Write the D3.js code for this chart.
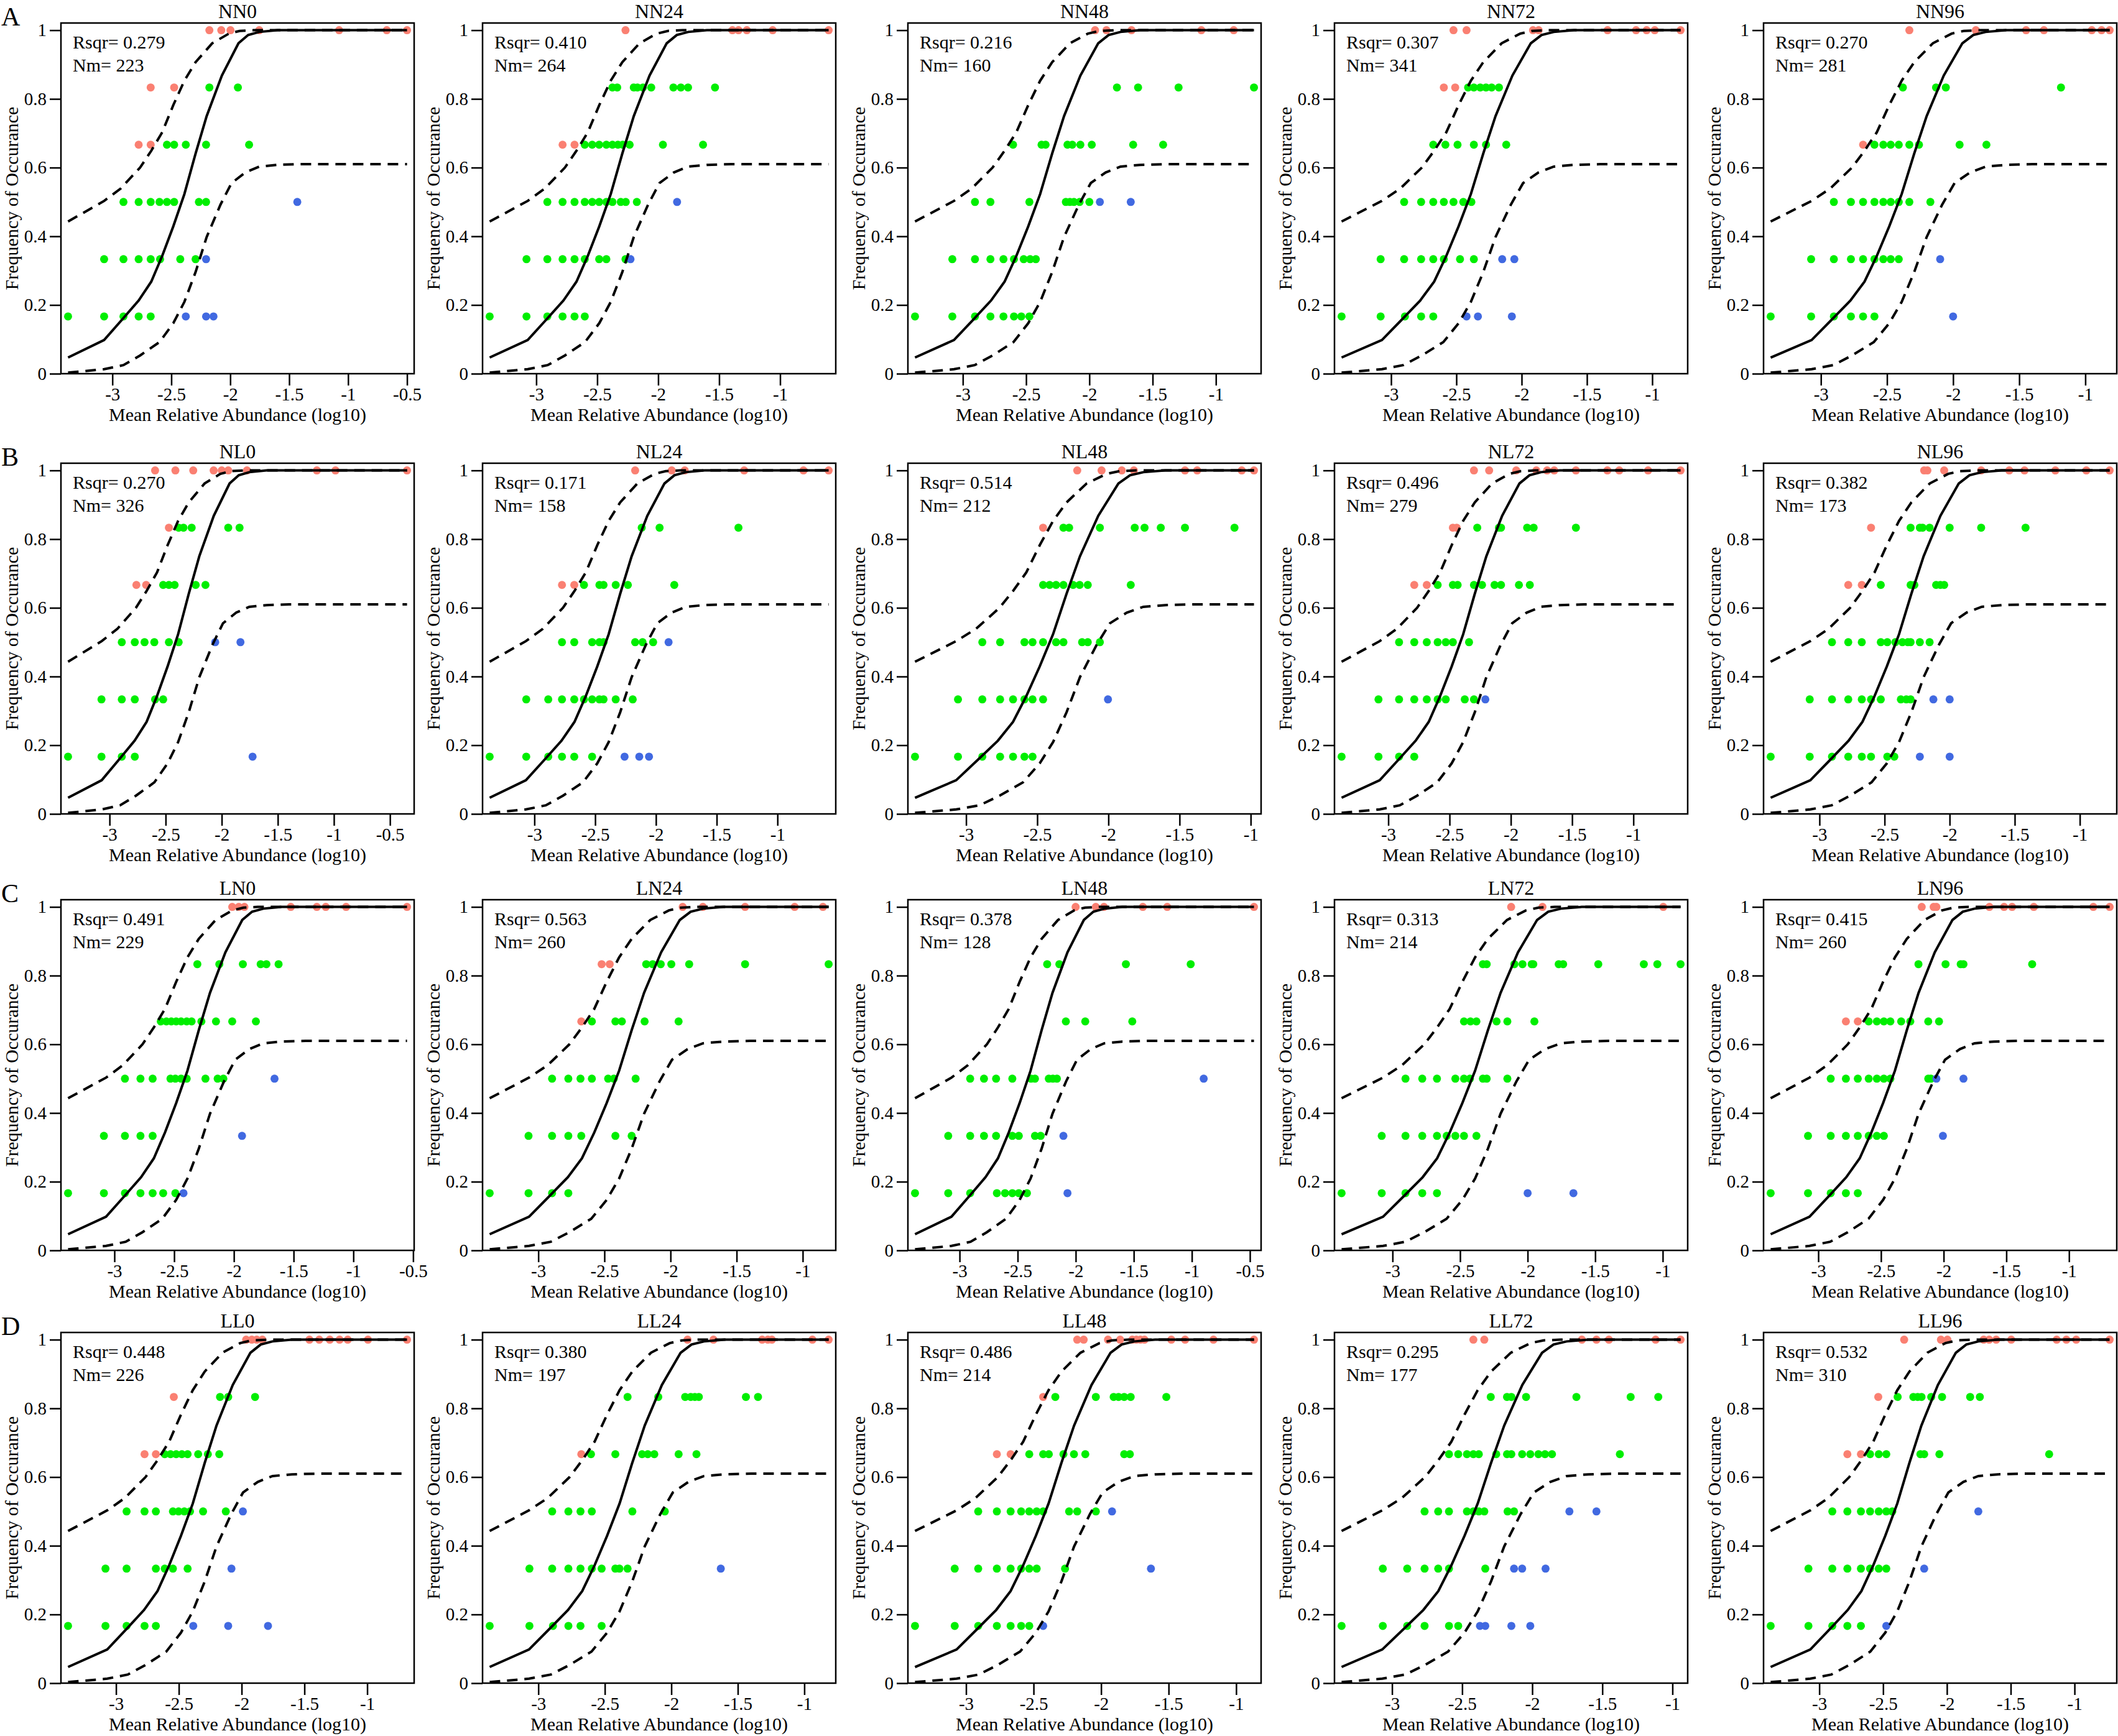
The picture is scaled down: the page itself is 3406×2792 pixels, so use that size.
<!DOCTYPE html>
<html>
<head>
<meta charset="utf-8">
<script src="https://cdn.jsdelivr.net/npm/d3@7"></script>
<style>
  body { margin: 0; background: #fff; }
  text { font-family: "Liberation Serif", "Times New Roman", serif; fill: #000; }
</style>
</head>
<body>
<svg></svg>
<script>
// panels, read row by row (A..D) from the figure
const panelNames = ['NN0','NN24','NN48','NN72','NN96',
                    'NL0','NL24','NL48','NL72','NL96',
                    'LN0','LN24','LN48','LN72','LN96',
                    'LL0','LL24','LL48','LL72','LL96'];
const rsqr = ['0.279','0.410','0.216','0.307','0.270',
              '0.270','0.171','0.514','0.496','0.382',
              '0.491','0.563','0.378','0.313','0.415',
              '0.448','0.380','0.486','0.295','0.532'];
const nm = [223,264,160,341,281, 326,158,212,279,173, 229,260,128,214,260, 226,197,214,177,310];
const rowLetters = ['A','B','C','D'];
const yTickValues = [0, 0.2, 0.4, 0.6, 0.8, 1];
const yTickLabels = ['0','0.2','0.4','0.6','0.8','1'];

// neutral model fit and 95% bounds (log10 abundance, frequency)
const fitX = [-3.376,-3.07,-2.906,-2.777,-2.67,-2.577,-2.483,-2.389,-2.294,-2.2,-2.071,-1.93,-1.848,-1.754,-1.6];
const fitY = [0.047,0.098,0.162,0.213,0.268,0.343,0.429,0.523,0.641,0.75,0.868,0.962,0.986,0.995,1.0];
const upperX = [-3.376,-3.07,-2.93,-2.765,-2.67,-2.577,-2.483,-2.389,-2.294,-2.153,-2.012,-1.92,-1.8];
const upperY = [0.443,0.503,0.539,0.6,0.649,0.703,0.782,0.853,0.907,0.962,0.99,0.998,1.0];
const lowerX = [-3.376,-3.07,-2.906,-2.765,-2.6,-2.483,-2.389,-2.294,-2.2,-2.083,-1.989,-1.871,-1.754,-1.6,-1.4];
const lowerY = [0.003,0.013,0.025,0.053,0.092,0.147,0.209,0.296,0.398,0.492,0.555,0.586,0.603,0.608,0.61];

// points: [occurrences out of 6, group (a=above, n=neutral, b=below), x values]
const ptsNN0 = [
  [6,'a',[-2.177,-2.076,-1.998,-1.754,-1.076,-0.672,-0.5]],
  [5,'a',[-2.675,-2.476]], [5,'n',[-2.177,-1.935]],
  [4,'a',[-2.777,-2.675]], [4,'n',[-2.537,-2.476,-2.377,-2.205,-1.84]],
  [3,'n',[-2.906,-2.777,-2.675,-2.6,-2.537,-2.476,-2.266,-2.205]], [3,'b',[-1.431]],
  [2,'n',[-3.07,-2.906,-2.777,-2.675,-2.595,-2.424,-2.294]], [2,'b',[-2.205]],
  [1,'n',[-3.376,-3.07,-2.906,-2.777,-2.675]], [1,'b',[-2.377,-2.205,-2.142]]
];
const ptsNN24 = [
  [6,'a',[-2.268,-1.391,-1.341,-1.273,-1.061,-0.602]],
  [5,'n',[-2.375,-2.336,-2.2,-2.17,-2.125,-2.057,-1.875,-1.814,-1.755,-1.534]],
  [4,'a',[-2.784,-2.686]], [4,'n',[-2.602,-2.541,-2.484,-2.425,-2.375,-2.33,-2.291,-2.234,-1.961,-1.632]],
  [3,'n',[-2.909,-2.784,-2.686,-2.602,-2.541,-2.484,-2.425,-2.375,-2.307,-2.266,-2.175]], [3,'b',[-1.845]],
  [2,'n',[-3.08,-2.909,-2.784,-2.686,-2.602,-2.484,-2.425,-2.268]], [2,'b',[-2.227]],
  [1,'n',[-3.382,-3.08,-2.909,-2.784,-2.686,-2.602]]
];
const ptsNN48 = [
  [6,'a',[-1.955,-1.865,-1.667,-1.115,-0.859]],
  [5,'n',[-1.782,-1.615,-1.295,-0.699]],
  [4,'n',[-2.603,-2.378,-2.346,-2.173,-2.135,-2.071,-1.981,-1.654,-1.417]],
  [3,'n',[-2.904,-2.782,-2.474,-2.186,-2.154,-2.122,-2.077,-2.0]], [3,'b',[-1.917,-1.673]],
  [2,'n',[-3.083,-2.904,-2.782,-2.679,-2.596,-2.519,-2.468,-2.423]],
  [1,'n',[-3.378,-3.083,-2.904,-2.782,-2.679,-2.596,-2.538,-2.474]]
];
const ptsNN72 = [
  [6,'a',[-2.522,-2.422,-1.913,-1.87,-1.342,-1.124,-1.043,-0.981,-0.783]],
  [5,'a',[-2.596,-2.509]], [5,'n',[-2.41,-2.366,-2.317,-2.273,-2.23,-2.174]],
  [4,'n',[-2.677,-2.584,-2.491,-2.366,-2.273,-2.118]],
  [3,'n',[-2.9,-2.77,-2.677,-2.596,-2.522,-2.447,-2.385]],
  [2,'n',[-3.08,-2.9,-2.77,-2.677,-2.596,-2.472,-2.366]], [2,'b',[-2.149,-2.056]],
  [1,'n',[-3.379,-3.08,-2.894,-2.77,-2.677]], [1,'b',[-2.422,-2.335,-2.075]]
];
const ptsNN96 = [
  [6,'a',[-2.331,-1.828,-1.448,-1.313,-0.951,-0.877,-0.816]],
  [5,'n',[-2.38,-2.129,-2.055,-1.184]],
  [4,'a',[-2.681]], [4,'n',[-2.595,-2.528,-2.472,-2.411,-2.331,-2.258,-1.951,-1.748]],
  [3,'n',[-2.902,-2.773,-2.681,-2.595,-2.528,-2.472,-2.411,-2.331,-2.172]],
  [2,'n',[-3.074,-2.902,-2.773,-2.681,-2.595,-2.528,-2.472,-2.411]], [2,'b',[-2.098]],
  [1,'n',[-3.38,-3.074,-2.902,-2.773,-2.681,-2.595]], [1,'b',[-2.0]]
];
const ptsNL0 = [
  [6,'a',[-2.594,-2.413,-2.254,-2.072,-2.0,-1.942,-1.775,-1.152,-0.986,-0.348]],
  [5,'a',[-2.471]], [5,'n',[-2.384,-2.341,-2.268,-1.942,-1.841]],
  [4,'a',[-2.761,-2.674]], [4,'n',[-2.522,-2.471,-2.42,-2.232,-2.145]],
  [3,'n',[-2.891,-2.775,-2.688,-2.601,-2.471,-2.384]], [3,'b',[-2.058,-1.833]],
  [2,'n',[-3.072,-2.891,-2.775,-2.594,-2.522]],
  [1,'n',[-3.37,-3.072,-2.891,-2.775]], [1,'b',[-1.725]]
];
const ptsNL24 = [
  [6,'a',[-2.171,-1.87,-1.763,-1.274,-0.786,-0.579]],
  [5,'n',[-2.117,-1.97,-1.321]],
  [4,'a',[-2.773,-2.672]], [4,'n',[-2.592,-2.465,-2.431,-2.331,-2.231,-1.849]],
  [3,'n',[-2.773,-2.672,-2.525,-2.465,-2.431,-2.171,-2.11,-2.023]], [3,'b',[-1.896]],
  [2,'n',[-3.067,-2.886,-2.773,-2.672,-2.592,-2.525,-2.465,-2.431,-2.331,-2.191]],
  [1,'n',[-3.368,-3.067,-2.886,-2.773,-2.672,-2.525]], [1,'b',[-2.258,-2.137,-2.057]]
];
const ptsNL48 = [
  [6,'a',[-2.219,-2.048,-1.906,-1.821,-1.462,-1.376,-1.063,-0.977]],
  [5,'a',[-2.459]], [5,'n',[-2.316,-2.276,-2.06,-1.815,-1.746,-1.632,-1.462,-1.114]],
  [4,'n',[-2.459,-2.413,-2.368,-2.316,-2.248,-2.202,-2.145,-1.843]],
  [3,'n',[-2.886,-2.761,-2.59,-2.533,-2.459,-2.368,-2.316,-2.185,-2.145,-2.06]],
  [2,'n',[-3.057,-2.886,-2.761,-2.67,-2.59,-2.533,-2.459]], [2,'b',[-2.003]],
  [1,'n',[-3.359,-3.057,-2.886,-2.761,-2.67,-2.59,-2.533]]
];
const ptsNL72 = [
  [6,'a',[-2.301,-2.177,-1.956,-1.792,-1.704,-1.646,-1.469,-1.212,-1.115,-0.88,-0.615]],
  [5,'a',[-2.473,-2.442]], [5,'n',[-2.274,-2.097,-2.08,-1.867,-1.814,-1.469]],
  [4,'a',[-2.788,-2.686]], [4,'n',[-2.597,-2.473,-2.434,-2.301,-2.235,-2.133,-2.08,-1.934,-1.845]],
  [3,'n',[-2.912,-2.788,-2.686,-2.597,-2.531,-2.473,-2.341]],
  [2,'n',[-3.08,-2.912,-2.788,-2.686,-2.597,-2.531,-2.376,-2.301]], [2,'b',[-2.208]],
  [1,'n',[-3.381,-3.08,-2.912,-2.788]]
];
const ptsNL96 = [
  [6,'a',[-2.196,-2.171,-2.042,-1.758,-1.542,-1.425,-1.188,-0.95,-0.771]],
  [5,'a',[-2.604]], [5,'n',[-2.3,-2.229,-2.208,-2.154,-2.0,-1.758,-1.417]],
  [4,'a',[-2.779,-2.675]], [4,'n',[-2.529,-2.3,-2.271,-2.104,-2.071,-2.042]],
  [3,'n',[-2.904,-2.779,-2.675,-2.529,-2.479,-2.417,-2.363,-2.321,-2.3,-2.229,-2.154]],
  [2,'n',[-3.075,-2.904,-2.779,-2.675,-2.604,-2.529,-2.375,-2.333,-2.3]], [2,'b',[-2.125,-2.0]],
  [1,'n',[-3.375,-3.075,-2.904,-2.779,-2.675,-2.604,-2.479,-2.425]], [1,'b',[-2.229,-2.0]]
];
const ptsLN0 = [
  [6,'a',[-2.014,-1.959,-1.912,-1.524,-1.306,-1.231,-1.061,-0.551]],
  [5,'n',[-2.306,-2.122,-1.925,-1.776,-1.728,-1.626]],
  [4,'n',[-2.612,-2.565,-2.524,-2.483,-2.442,-2.395,-2.354,-2.272,-2.15,-2.014,-1.816]],
  [3,'n',[-2.912,-2.782,-2.68,-2.531,-2.49,-2.442,-2.395,-2.238,-2.136,-2.088]], [3,'b',[-1.66]],
  [2,'n',[-3.088,-2.912,-2.782,-2.68]], [2,'b',[-1.932]],
  [1,'n',[-3.388,-3.088,-2.912,-2.782,-2.68,-2.592,-2.49]], [1,'b',[-2.422]]
];
const ptsLN24 = [
  [6,'a',[-1.908,-1.755,-1.436,-1.061,-0.847]],
  [5,'a',[-2.521,-2.46]], [5,'n',[-2.184,-2.135,-2.074,-1.994,-1.859,-1.436,-0.804]],
  [4,'a',[-2.675]], [4,'n',[-2.595,-2.417,-2.368,-2.196,-1.939]],
  [3,'n',[-2.896,-2.773,-2.681,-2.595,-2.472,-2.429,-2.264]],
  [2,'n',[-3.074,-2.896,-2.773,-2.675,-2.417,-2.294]],
  [1,'n',[-3.368,-3.074,-2.896,-2.773]]
];
const ptsLN48 = [
  [6,'a',[-2.001,-1.827,-1.757,-1.422,-1.212,-0.465]],
  [5,'n',[-2.246,-2.141,-1.568,-1.01]],
  [4,'n',[-2.085,-1.918,-1.513]],
  [3,'n',[-2.909,-2.79,-2.686,-2.546,-2.385,-2.351,-2.232,-2.197,-2.162]], [3,'b',[-0.898]],
  [2,'n',[-3.098,-2.909,-2.79,-2.686,-2.546,-2.49,-2.351,-2.302]], [2,'b',[-2.106]],
  [1,'n',[-3.384,-3.098,-2.909,-2.679,-2.609,-2.546,-2.49,-2.42]], [1,'b',[-2.071]]
];
const ptsLN72 = [
  [6,'a',[-2.122,-1.89,-0.996]],
  [5,'n',[-2.331,-2.303,-2.098,-2.038,-1.97,-1.958,-1.77,-1.737,-1.477,-1.14,-1.04,-0.868]],
  [4,'n',[-2.471,-2.423,-2.379,-2.23,-2.15,-1.95]],
  [3,'n',[-2.904,-2.78,-2.671,-2.535,-2.471,-2.427,-2.331,-2.303,-2.15]],
  [2,'n',[-3.08,-2.904,-2.78,-2.671,-2.599,-2.535,-2.471,-2.379]],
  [1,'n',[-3.377,-3.08,-2.904,-2.78,-2.671]], [1,'b',[-2.0,-1.661]]
];
const ptsLN96 = [
  [6,'a',[-2.175,-2.08,-2.058,-1.635,-1.518,-1.454,-1.281,-0.806,-0.676]],
  [5,'n',[-2.201,-1.985,-1.864,-1.842,-1.294]],
  [4,'a',[-2.78,-2.685]], [4,'n',[-2.598,-2.533,-2.477,-2.425,-2.339,-2.266,-2.123,-2.037]],
  [3,'n',[-2.901,-2.78,-2.685,-2.598,-2.533,-2.477,-2.425,-2.123,-2.102]], [3,'b',[-2.058,-1.842]],
  [2,'n',[-3.082,-2.901,-2.78,-2.685,-2.598,-2.533,-2.477]], [2,'b',[-2.006]],
  [1,'n',[-3.38,-3.082,-2.901,-2.78,-2.685]]
];
const ptsLL0 = [
  [6,'a',[-1.964,-1.919,-1.88,-1.835,-1.46,-1.382,-1.298,-1.22,-1.155,-0.994,-0.683]],
  [5,'a',[-2.54]], [5,'n',[-2.172,-2.107,-1.893]],
  [4,'a',[-2.773,-2.683]], [4,'n',[-2.612,-2.566,-2.521,-2.476,-2.43,-2.346,-2.269,-2.178]],
  [3,'n',[-2.916,-2.773,-2.683,-2.547,-2.502,-2.456,-2.411,-2.307,-2.126]], [3,'b',[-1.99]],
  [2,'n',[-3.084,-2.916,-2.683,-2.612,-2.547,-2.43]], [2,'b',[-2.081]],
  [1,'n',[-3.382,-3.084,-2.916,-2.773,-2.683]], [1,'b',[-2.385,-2.107,-1.79]]
];
const ptsLL24 = [
  [6,'a',[-1.878,-1.683,-1.317,-1.274,-1.244,-0.939,-0.817]],
  [5,'n',[-2.329,-2.098,-1.896,-1.854,-1.823,-1.793,-1.439,-1.348]],
  [4,'a',[-2.677]], [4,'n',[-2.604,-2.421,-2.22,-2.177,-2.128,-1.945,-1.811]],
  [3,'n',[-2.896,-2.774,-2.683,-2.598,-2.293,-2.049]],
  [2,'n',[-3.067,-2.896,-2.774,-2.683,-2.598,-2.524,-2.421,-2.39,-2.329]], [2,'b',[-1.628]],
  [1,'n',[-3.366,-3.067,-2.89,-2.774,-2.683,-2.524]]
];
const ptsLL48 = [
  [6,'a',[-2.177,-2.129,-1.949,-1.859,-1.769,-1.739,-1.709,-1.679,-1.48,-1.378,-1.168,-0.868]],
  [5,'a',[-2.429]], [5,'n',[-2.339,-2.039,-1.907,-1.871,-1.829,-1.781,-1.517]],
  [4,'a',[-2.772,-2.67]], [4,'n',[-2.532,-2.429,-2.387,-2.279,-2.201,-2.117,-1.829,-1.787]],
  [3,'n',[-2.91,-2.772,-2.67,-2.592,-2.532,-2.477,-2.429,-2.237,-2.177,-2.039]], [3,'b',[-1.919]],
  [2,'n',[-3.084,-2.91,-2.772,-2.67,-2.592,-2.532,-2.477,-2.267]], [2,'b',[-1.631]],
  [1,'n',[-3.378,-3.084,-2.91,-2.772,-2.67,-2.592,-2.532]], [1,'b',[-2.429]]
];
const ptsLL72 = [
  [6,'a',[-2.42,-2.342,-1.646,-1.542,-1.453,-1.12,-0.942]],
  [5,'n',[-2.296,-2.18,-2.149,-2.044,-1.685,-1.298,-1.101]],
  [4,'n',[-2.594,-2.528,-2.466,-2.42,-2.381,-2.257,-2.18,-2.149,-2.072,-2.014,-1.956,-1.909,-1.859,-1.375]],
  [3,'n',[-2.768,-2.671,-2.594,-2.466,-2.42,-2.381,-2.342,-2.176,-2.13]], [3,'b',[-1.735,-1.542]],
  [2,'n',[-3.066,-2.892,-2.768,-2.671,-2.594,-2.335]], [2,'b',[-2.13,-2.072,-1.905]],
  [1,'n',[-3.36,-3.066,-2.892,-2.768,-2.594,-2.528]], [1,'b',[-2.373,-2.335,-2.149,-2.014]]
];
const ptsLL96 = [
  [6,'a',[-2.335,-2.047,-1.996,-1.712,-1.669,-1.614,-1.496,-1.14,-1.064,-0.987,-0.725]],
  [5,'a',[-2.538]], [5,'n',[-2.386,-2.263,-2.229,-2.199,-2.123,-2.038,-1.818,-1.742]],
  [4,'a',[-2.78,-2.674]], [4,'n',[-2.602,-2.534,-2.475,-2.208,-2.178,-2.059,-1.199]],
  [3,'n',[-2.898,-2.78,-2.674,-2.602,-2.534,-2.475,-2.428]], [3,'b',[-1.754]],
  [2,'n',[-3.085,-2.898,-2.78,-2.674,-2.602,-2.534,-2.475]], [2,'b',[-2.178]],
  [1,'n',[-3.381,-3.085,-2.898,-2.78,-2.674]], [1,'b',[-2.475]]
];

const panelPoints = [ptsNN0, ptsNN24, ptsNN48, ptsNN72, ptsNN96,
                     ptsNL0, ptsNL24, ptsNL48, ptsNL72, ptsNL96,
                     ptsLN0, ptsLN24, ptsLN48, ptsLN72, ptsLN96,
                     ptsLL0, ptsLL24, ptsLL48, ptsLL72, ptsLL96];

const color = {a: '#FA8072', n: '#00EE00', b: '#4169E1'};

const width = 3406, height = 2792;
const colLeft = [98, 776, 1460, 2146, 2836];
const rowTop = [37, 745, 1447, 2143];
const boxW = 568, boxH = 564;

const svg = d3.select('svg')
  .attr('width', width)
  .attr('height', height);

svg.append('rect').attr('width', width).attr('height', height).attr('fill', '#fff');

rowLetters.forEach((l, r) => {
  svg.append('text')
    .attr('x', 2)
    .attr('y', rowTop[r] + 4)
    .attr('font-size', 42)
    .text(l);
});

const render = (i) => {
  const row = Math.floor(i / 5), col = i % 5;
  const pts = panelPoints[i].flatMap(([k, grp, xs]) => xs.map(v => ({x: v, y: k / 6, grp})));
  const [xmin, xmax] = d3.extent(pts, d => d.x);
  const pad = (xmax - xmin) * 0.021;

  const xScale = d3.scaleLinear()
    .domain([xmin - pad, xmax + pad])
    .range([0, boxW]);
  const yScale = d3.scaleLinear()
    .domain([0, 1.021])
    .range([boxH, 0]);

  const g = svg.append('g')
    .attr('transform', `translate(${colLeft[col]},${rowTop[row]})`);

  g.selectAll('circle').data(pts).join('circle')
    .attr('cx', d => xScale(d.x))
    .attr('cy', d => yScale(d.y))
    .attr('r', 6.5)
    .attr('fill', d => color[d.grp]);

  // curves run from the smallest to the largest taxon of the panel
  const trim = (xs, ys) => {
    const out = [[xmin, ys[0]]];
    xs.forEach((v, j) => { if (j > 0 && v < xmax) out.push([v, ys[j]]); });
    out.push([xmax, ys[ys.length - 1]]);
    return out;
  };
  const lineGenerator = d3.line()
    .x(d => xScale(d[0]))
    .y(d => yScale(d[1]));

  g.append('path')
    .attr('d', lineGenerator(trim(upperX, upperY)))
    .attr('fill', 'none').attr('stroke', '#000')
    .attr('stroke-width', 4).attr('stroke-dasharray', '17,11');
  g.append('path')
    .attr('d', lineGenerator(trim(lowerX, lowerY)))
    .attr('fill', 'none').attr('stroke', '#000')
    .attr('stroke-width', 4).attr('stroke-dasharray', '17,11');
  g.append('path')
    .attr('d', lineGenerator(trim(fitX, fitY)))
    .attr('fill', 'none').attr('stroke', '#000')
    .attr('stroke-width', 4);

  const xAxis = d3.axisBottom(xScale)
    .ticks(6)
    .tickFormat(d => String(d))
    .tickSize(19)
    .tickPadding(3)
  const yAxis = d3.axisLeft(yScale)
    .tickValues(yTickValues)
    .tickFormat((d, j) => yTickLabels[j])
    .tickSize(18)
    .tickPadding(5);

  const xAxisG = g.append('g').call(xAxis)
    .attr('transform', `translate(0,${boxH})`);
  const yAxisG = g.append('g').call(yAxis);
  [xAxisG, yAxisG].forEach(a => {
    a.select('.domain').remove();
    a.selectAll('.tick line').attr('stroke', '#000').attr('stroke-width', 2.5);
    a.selectAll('.tick text')
      .attr('font-size', 29)
      .attr('font-family', '"Liberation Serif", serif')
      .attr('fill', '#000');
  });

  g.append('rect')
    .attr('width', boxW)
    .attr('height', boxH)
    .attr('fill', 'none')
    .attr('stroke', '#000')
    .attr('stroke-width', 2.5);

  g.append('text')
    .attr('x', boxW / 2)
    .attr('y', -8)
    .attr('text-anchor', 'middle')
    .attr('font-size', 32)
    .text(panelNames[i]);

  g.append('text')
    .attr('x', 19).attr('y', 41)
    .attr('font-size', 30)
    .text(`Rsqr= ${rsqr[i]}`);
  g.append('text')
    .attr('x', 19).attr('y', 78)
    .attr('font-size', 30)
    .text(`Nm= ${nm[i]}`);

  g.append('text')
    .attr('transform', 'rotate(-90)')
    .attr('x', -boxH / 2)
    .attr('y', -69)
    .attr('text-anchor', 'middle')
    .attr('font-size', 30)
    .text('Frequency of Occurance');

  g.append('text')
    .attr('x', boxW / 2)
    .attr('y', boxH + 76)
    .attr('text-anchor', 'middle')
    .attr('font-size', 30)
    .text('Mean Relative Abundance (log10)');
};

panelNames.forEach((name, i) => render(i));
</script>
</body>
</html>
